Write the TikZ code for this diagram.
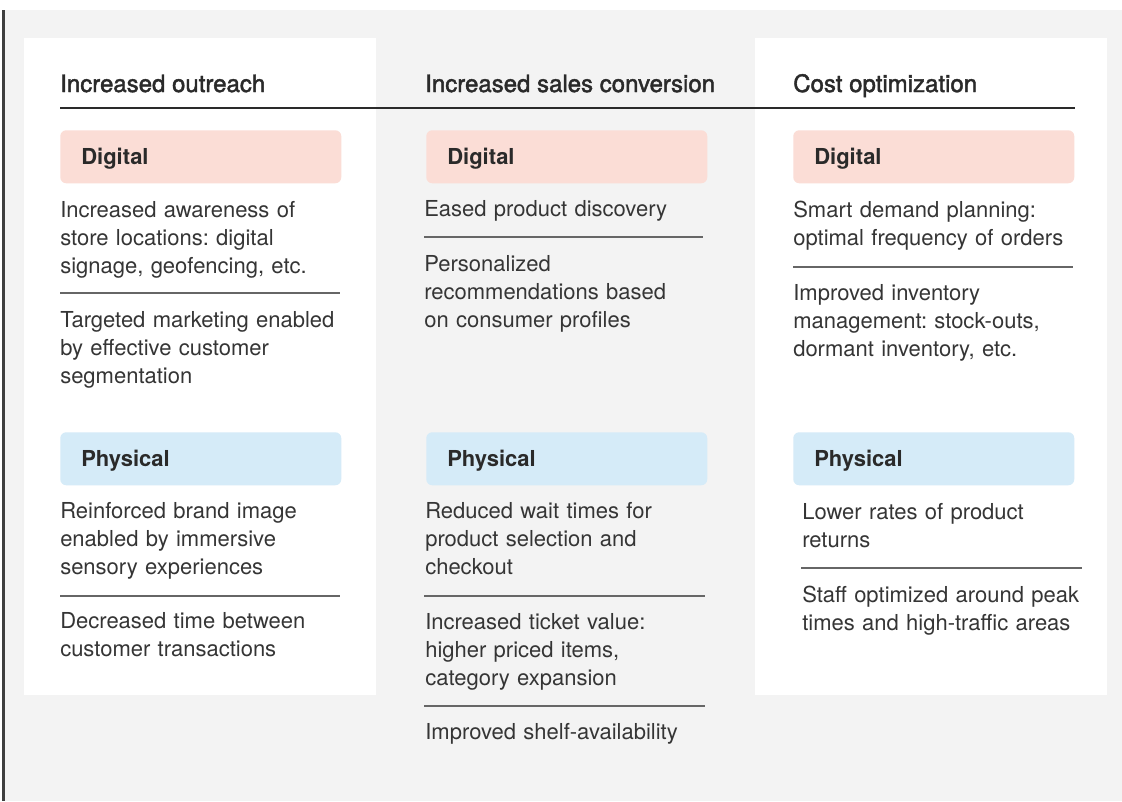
\documentclass[tikz,border=0pt]{standalone}
\usepackage{fontspec}
\setmainfont{TeX Gyre Heros}
\newfontfamily\medfont[FakeBold=1.8]{TeX Gyre Heros}
\usetikzlibrary{positioning}
\definecolor{panelgray}{HTML}{F3F3F3}
\definecolor{digitalpink}{HTML}{FBDDD6}
\definecolor{physicalblue}{HTML}{D5EBF8}
\definecolor{rulegray}{HTML}{666666}
\definecolor{textdark}{HTML}{2A2A2A}
\definecolor{textbody}{HTML}{353535}
\frenchspacing

\begin{document}
\begin{tikzpicture}[x=0.75pt, y=-0.75pt, heading/.style={anchor=base west, inner sep=0pt, font=\medfont\fontsize{18}{22}\selectfont, text=textdark}, tag/.style={rectangle, rounded corners=4.5pt, anchor=north west, minimum width=210.75pt, minimum height=39.75pt, inner xsep=15.75pt, inner ysep=0pt, text width=179.25pt, align=left, text height=12pt, text depth=0pt, font=\bfseries\fontsize{16.5}{21}\selectfont, text=textdark}, digital/.style={tag, fill=digitalpink}, physical/.style={tag, fill=physicalblue}, item/.style={anchor=north west, inner sep=0pt, text width=240pt, align=left, font=\fontsize{16.5}{21}\selectfont, text=textbody, execute at begin node=\strut}, rule/.style={rulegray, line width=1pt}]
\useasboundingbox (0,0) rectangle (1122,801);
\fill [white] (0,0) rectangle (1122,801);
\fill [panelgray] (5,10) rectangle (1122,801);
\fill [textdark!90] (2,10) rectangle (5,801);
\fill [white] (24,38) rectangle (376,695);
\fill [white] (755,38) rectangle (1107,695);
\node [heading] (outreach) at (60,92) {Increased outreach};
\node [heading] (sales) at (425,92) {Increased sales conversion};
\node [heading] (cost) at (793,92) {Cost optimization};
\draw [textdark, line width=1.5pt] (60,108) -- (1075,108);
\node [digital] (dig1) at (60,130) {Digital};
\node [digital] (dig2) at (426,130) {Digital};
\node [digital] (dig3) at (793,130) {Digital};
\node [physical] (phys1) at (60,432) {Physical};
\node [physical] (phys2) at (426,432) {Physical};
\node [physical] (phys3) at (793,432) {Physical};
\node [item] (a1) at (60,197.4) {Increased awareness of\\store locations: digital\\signage, geofencing, etc.};
\node [item] (a2) at (60,307.4) {Targeted marketing enabled\\by effective customer\\segmentation};
\node [item] (a3) at (60,498.4) {Reinforced brand image\\enabled by immersive\\sensory experiences};
\node [item] (a4) at (60,608.4) {Decreased time between\\customer transactions};
\node [item] (b1) at (424,196.4) {Eased product discovery};
\node [item] (b2) at (424,251.4) {Personalized\\recommendations based\\on consumer profiles};
\node [item] (b3) at (425,498.4) {Reduced wait times for\\product selection and\\checkout};
\node [item] (b4) at (425,609.4) {Increased ticket value:\\higher priced items,\\category expansion};
\node [item] (b5) at (425,719.4) {Improved shelf-availability};
\node [item] (c1) at (793,197.4) {Smart demand planning:\\optimal frequency of orders};
\node [item] (c2) at (793,280.4) {Improved inventory\\management: stock-outs,\\dormant inventory, etc.};
\node [item] (c3) at (802,499.4) {Lower rates of product\\returns};
\node [item] (c4) at (802,582.4) {Staff optimized around peak\\times and high-traffic areas};
\draw [rule] (60,293) -- (340,293);
\draw [rule] (60,596) -- (340,596);
\draw [rule] (424,237) -- (703,237);
\draw [rule] (424,596) -- (705,596);
\draw [rule] (424,706) -- (705,706);
\draw [rule] (793,267) -- (1073,267);
\draw [rule] (801,568) -- (1082,568);
\end{tikzpicture}
\end{document}
